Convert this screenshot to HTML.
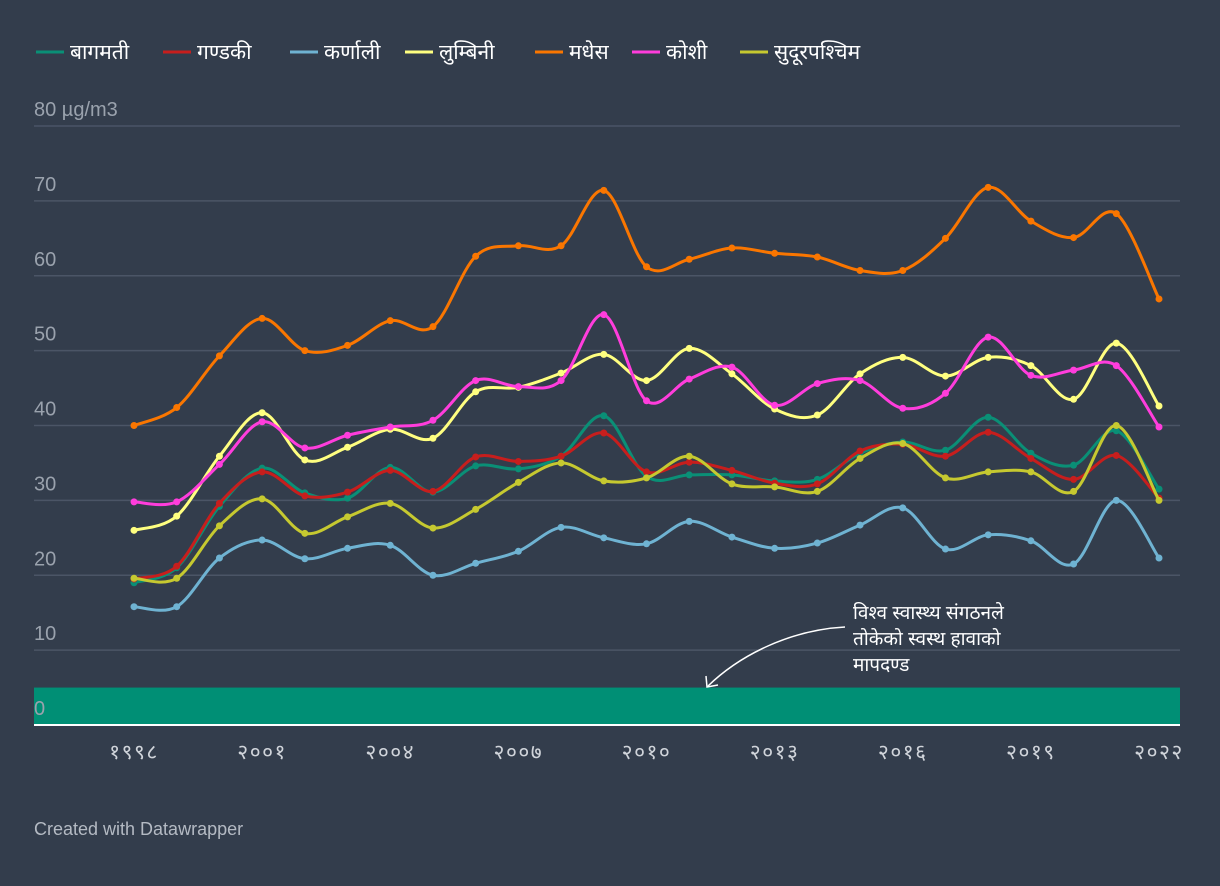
<!DOCTYPE html>
<html><head><meta charset="utf-8"><style>
body{margin:0;background:#333d4c;}
svg{display:block}
text{font-family:"Liberation Sans","Noto Sans CJK SC",sans-serif}
</style></head><body>
<svg id="chart" width="1220" height="886">
<rect width="1220" height="886" fill="#333d4c"/>
<g id="legend"></g>
<g id="grid"></g>
<rect id="who" x="34" width="1146" fill="#008f75"/>
<g id="ylabels"></g>
<g id="xlabels"></g>
<g id="series"></g>
<g fill="#ffffff" font-size="19">
<text x="853" y="619">विश्व स्वास्थ्य संगठनले</text>
<text x="853" y="645">तोकेको स्वस्थ हावाको</text>
<text x="853" y="671">मापदण्ड</text>
<path d="M845,627 C790,630 740,655 708,686" fill="none" stroke="#fff" stroke-width="1.5"/>
<path d="M706,676 L707,687 L718,685" fill="none" stroke="#fff" stroke-width="1.5"/>
</g>
<text x="34" y="835" fill="#b4bac3" font-size="18">Created with Datawrapper</text>
</svg>
<script>
const years=[1998,1999,2000,2001,2002,2003,2004,2005,2006,2007,2008,2009,2010,2011,2012,2013,2014,2015,2016,2017,2018,2019,2020,2021,2022];
const seriesNames=["बागमती","गण्डकी","कर्णाली","लुम्बिनी","मधेस","कोशी","सुदूरपश्चिम"];
const seriesColors=["#0a8f76","#c71e1d","#6fb3d2","#ffff80","#fa7600","#ff3ddc","#c6c930"];
const bagmati=[19,21,29.2,34.3,31,30.3,34.4,31.1,34.6,34.2,35.9,41.3,33.2,33.4,33.4,32.6,32.8,36.3,37.8,36.7,41.1,36.3,34.7,39.3,31.5];
const gandaki=[19.5,21.2,29.6,33.8,30.6,31.1,34,31.2,35.8,35.2,35.9,39,33.8,35.1,34,32.3,32.2,36.6,37.5,35.9,39.1,35.6,32.8,36,30.3];
const karnali=[15.8,15.8,22.3,24.7,22.2,23.6,24,20,21.6,23.2,26.4,25,24.2,27.2,25.1,23.6,24.3,26.7,29,23.5,25.4,24.6,21.5,30,22.3];
const lumbini=[26,27.9,35.9,41.7,35.4,37.1,39.5,38.3,44.5,45.1,47,49.5,46,50.3,46.9,42.2,41.4,46.9,49.1,46.6,49.1,48,43.5,51,42.6];
const madhesh=[40,42.4,49.3,54.3,50,50.7,54,53.2,62.6,64,64,71.4,61.2,62.2,63.7,63,62.5,60.7,60.7,65,71.8,67.3,65.1,68.3,56.9];
const koshi=[29.8,29.8,34.8,40.5,37,38.7,39.8,40.7,46,45.2,46,54.8,43.3,46.2,47.8,42.7,45.6,46,42.3,44.3,51.8,46.7,47.4,48,39.8];
const sudur=[19.6,19.6,26.6,30.2,25.6,27.8,29.6,26.3,28.8,32.4,35,32.6,33,35.9,32.2,31.8,31.2,35.6,37.6,33,33.8,33.8,31.2,40,30];
const yTicks=[0,10,20,30,40,50,60,70,80];
const xTickYears=[1998,2001,2004,2007,2010,2013,2016,2019,2022];
const xTickLabels=["१९९८","२००१","२००४","२००७","२०१०","२०१३","२०१६","२०१९","२०२२"];
const whoLimit=5;
const allSeries=[bagmati,gandaki,karnali,lumbini,madhesh,koshi,sudur];

const NS="http://www.w3.org/2000/svg";
const x=y=>134+(y-1998)*(1159-134)/24;
const yS=v=>725-v*(725-126)/80;
function mk(tag,attrs,parent){const e=document.createElementNS(NS,tag);for(const k in attrs)e.setAttribute(k,attrs[k]);parent.appendChild(e);return e;}

const grid=document.getElementById('grid'),yl=document.getElementById('ylabels');
yTicks.forEach(t=>{
  const l=mk('line',{x1:34,x2:1180,y1:yS(t),y2:yS(t),stroke:'#4b5566','stroke-width':1.5},grid);
  
  
  const tx=mk('text',{x:34,y:yS(t)-10,fill:'#9aa2ad','font-size':20},yl);
  tx.textContent=t===80?'80 µg/m3':String(t);
  
  
});
const who=document.getElementById('who');
who.setAttribute('y',yS(whoLimit));who.setAttribute('height',yS(0)-yS(whoLimit));
grid.parentNode.insertBefore(who,yl);
const base=mk('line',{x1:34,x2:1180,y1:yS(0),y2:yS(0),stroke:'#ffffff','stroke-width':2},grid.parentNode);


grid.parentNode.insertBefore(base,yl);

const xl=document.getElementById('xlabels');
xTickYears.forEach((yr,i)=>{
  const tx=mk('text',{x:x(yr),y:759,fill:'#d0d4da','font-size':21,'letter-spacing':1.5,'text-anchor':'middle'},xl);
  tx.textContent=xTickLabels[i];
  
  
});

function pathFor(vals){
  const p=vals.map((v,i)=>[x(years[i]),yS(v)]);
  let d='M'+p[0][0]+','+p[0][1];
  for(let i=0;i<p.length-1;i++){
    const p0=p[i-1]||p[i],p1=p[i],p2=p[i+1],p3=p[i+2]||p2;
    const c1=[p1[0]+(p2[0]-p0[0])/6,p1[1]+(p2[1]-p0[1])/6];
    const c2=[p2[0]-(p3[0]-p1[0])/6,p2[1]-(p3[1]-p1[1])/6];
    d+=' C'+c1+' '+c2+' '+p2;
  }
  return d;
}
const sg=document.getElementById('series');
allSeries.forEach((vals,si)=>{
  const g=mk('g',{},sg);
  
  
  const pa=mk('path',{d:pathFor(vals),fill:'none',stroke:seriesColors[si],'stroke-width':3},g);
  
  
  vals.forEach((v,i)=>{
    const c=mk('circle',{cx:x(years[i]),cy:yS(v),r:3.5,fill:seriesColors[si]},g);
    
    
  });
});

const lg=document.getElementById('legend');
const lgX=[36,163,290,405,535,632,740];
seriesNames.forEach((n,i)=>{
  const g=mk('g',{},lg);
  
  
  mk('line',{x1:lgX[i],x2:lgX[i]+28,y1:52,y2:52,stroke:seriesColors[i],'stroke-width':3},g);
  const t=mk('text',{x:lgX[i]+34,y:59,fill:'#ffffff','font-size':21},g);
  t.textContent=n;
});
</script>
</body></html>
